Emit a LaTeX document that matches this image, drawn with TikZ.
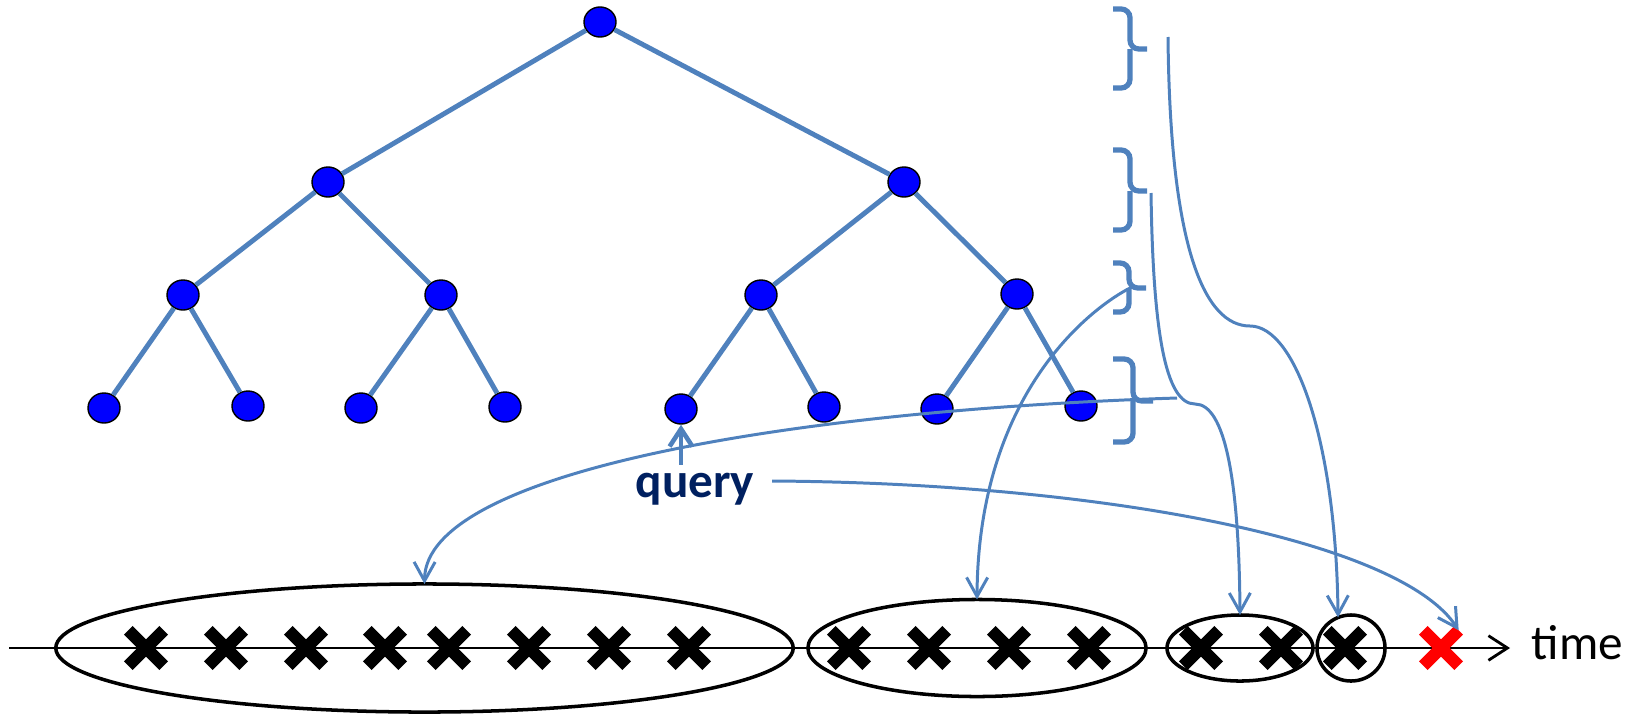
\documentclass[tikz,border=0pt]{standalone}
\usepackage{fontspec}
\setmainfont{Carlito}
\usepackage{tikz}
\usetikzlibrary{shapes,arrows.meta,positioning,calc}
\definecolor{linkblue}{RGB}{79,129,189}
\definecolor{querynavy}{RGB}{0,32,96}
\definecolor{nodeblue}{RGB}{0,0,255}
\tikzstyle{vertex} = [draw=black, ellipse, fill=nodeblue, minimum width=0.32cm,
    minimum height=0.30cm, inner sep=0pt, line width=0.4pt]
\tikzstyle{edge} = [draw=linkblue, line width=1.4pt]
\tikzstyle{group} = [draw, ellipse, line width=1pt, inner sep=0pt, outer sep=0pt]
\tikzstyle{event} = [draw, cross out, line width=3.5pt, minimum size=0.23cm, inner sep=0pt]
\tikzstyle{levelbrace} = [draw=linkblue, line width=1.5pt, rounded corners=2.5pt]
\tikzstyle{link} = [-{Straight Barb[length=5.4pt,width=6pt]}, draw=linkblue, line width=0.85pt]
\tikzstyle{ask} = [-{Straight Barb[length=5pt,width=6.5pt]}, draw=linkblue, line width=1.3pt]
\tikzstyle{timeline} = [-{Straight Barb[length=5.4pt,width=7pt]}, line width=0.8pt]

\begin{document}
\begin{tikzpicture}[x=0.01cm, y=-0.01cm]
    \useasboundingbox (0,0) rectangle (1634,715);

    % tree
    \node (root) [vertex] at (600,22) {};
    \node (l) [vertex] at (328,182) {};
    \node (r) [vertex] at (904,182) {};
    \node (ll) [vertex] at (183,295) {};
    \node (lr) [vertex] at (441,295) {};
    \node (rl) [vertex] at (761,295) {};
    \node (rr) [vertex] at (1017,294) {};
    \node (lll) [vertex] at (104,408) {};
    \node (llr) [vertex] at (248,406) {};
    \node (lrl) [vertex] at (361,408) {};
    \node (lrr) [vertex] at (505,407) {};
    \node (rll) [vertex] at (681,409) {};
    \node (rlr) [vertex] at (824,407) {};
    \node (rrl) [vertex] at (937,409) {};
    \node (rrr) [vertex] at (1081,406) {};
    \foreach \a/\b in {root/l, root/r, l/ll, l/lr, r/rl, r/rr, ll/lll, ll/llr, lr/lrl, lr/lrr,
                       rl/rll, rl/rlr, rr/rrl, rr/rrr}
        \draw [edge] (\a) -- (\b);

    % levels
    \draw [levelbrace] (1113,9) -- (1130,9) -- (1130,49) -- (1147,49);
    \draw [levelbrace] (1130,49) -- (1130,88) -- (1113,88);
    \draw [levelbrace] (1113,150) -- (1130,150) -- (1130,191) -- (1147,191);
    \draw [levelbrace] (1130,191) -- (1130,230) -- (1113,230);
    \draw [levelbrace] (1113,263) -- (1129,263) -- (1129,288) -- (1146,288);
    \draw [levelbrace] (1129,288) -- (1129,312) -- (1113,312);
    \draw [levelbrace] (1113,359) -- (1133,359) -- (1133,401) -- (1153,401);
    \draw [levelbrace] (1133,401) -- (1133,442) -- (1113,442);

    % time axis
    \coordinate (t0) at (9,648);
    \coordinate (t1) at (1510,648);
    \node (time) [anchor=base west, inner sep=0pt, font=\fontsize{14pt}{16pt}\selectfont] at (1531,659) {time};
    \draw [timeline] (t0) -- (t1);

    \node (grpA) [group, minimum width=7.37cm, minimum height=1.28cm] at (424.5,648) {};
    \node (grpB) [group, minimum width=3.38cm, minimum height=0.97cm] at (977,648) {};
    \node (grpC) [group, minimum width=1.46cm, minimum height=0.66cm] at (1240,648) {};
    \node (grpD) [group, minimum width=0.68cm, minimum height=0.66cm] at (1351,648) {};

    \foreach \x [count=\i] in {146,226,306,385,449,529,609,689}
        \node (a\i) [event] at (\x,648) {};
    \foreach \x [count=\i] in {849,929,1009,1089}
        \node (b\i) [event] at (\x,648) {};
    \node (c1) [event] at (1201,648) {};
    \node (c2) [event] at (1281,648) {};
    \node (d1) [event] at (1345,648) {};
    \node (now) [event, red] at (1441,648) {};

    % query
    \node (query) [anchor=base, inner sep=2pt, text=querynavy,
        font=\fontsize{14pt}{16pt}\selectfont\bfseries] at (695,497) {query};
    \draw [ask] (rll.south |- query.north) -- (rll.south);

    % pointers
    \coordinate (s1) at (1168,37);
    \coordinate (s2) at (1151,193);
    \coordinate (s3) at (1132,287);
    \coordinate (s4) at (1177,398);
    \coordinate (qout) at (772,481);
    \draw [link] (s1) .. controls (1170,250) and (1205,326) .. (1250,326)
        .. controls (1295,326) and (1336,440) .. (grpD.113);
    \draw [link] (s2) .. controls (1153,330) and (1165,404) .. (1195,404)
        .. controls (1225,404) and (1239,480) .. (grpC.north);
    \draw [link] (s3) .. controls (1095,305) and (978,390) .. (grpB.north);
    \draw [link] (s4) .. controls (800,410) and (425,470) .. (grpA.north);
    \draw [link] (qout) .. controls (1100,483) and (1400,540) .. (now.north east);
\end{tikzpicture}
\end{document}
